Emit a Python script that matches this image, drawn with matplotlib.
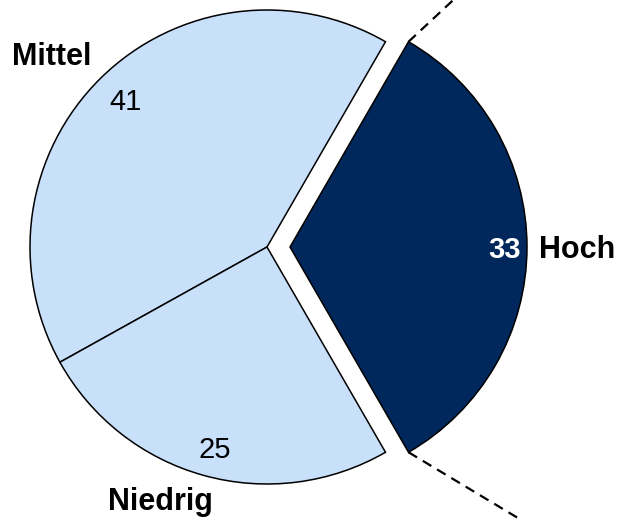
import numpy as np
import matplotlib.pyplot as plt

plt.rcParams['font.family'] = ['Liberation Sans', 'DejaVu Sans']

# shares per category, in pie order (counter-clockwise from -60 deg)
labels = ['Hoch', 'Mittel', 'Niedrig']
values = [33, 41, 25]
colors = ['#00285C', '#C8E0FA', '#C8E0FA']
explode = [0.097, 0, 0]

fig = plt.figure(figsize=(6.19, 5.2), dpi=100)
ax = fig.add_axes([0, 0, 1, 1])

start = -60
wedges, _ = ax.pie(values, colors=colors, explode=explode, startangle=start,
                   counterclock=True, radius=1,
                   wedgeprops=dict(edgecolor='black', linewidth=1.1))

ax.set_xlim(-1.1266, 1.4852)
ax.set_ylim(-1.1519, 1.0422)
ax.set_aspect('equal')
ax.axis('off')

# connector lines leaving the exploded slice
hoch = wedges[0]
cx, cy = hoch.center
for ang, direction in [(hoch.theta2, 43), (hoch.theta1, -31)]:
    x0 = cx + np.cos(np.radians(ang))
    y0 = cy + np.sin(np.radians(ang))
    x1 = x0 + 1.2 * np.cos(np.radians(direction))
    y1 = y0 + 1.2 * np.sin(np.radians(direction))
    ax.plot([x0, x1], [y0, y1], color='black', lw=1.6,
            linestyle=(0, (4.5, 3)), clip_on=True)

# value labels
ax.text(1.004, -0.013, str(values[0]), color='white', fontsize=21,
        fontweight='bold', ha='center', va='center')
ax.text(-0.599, 0.612, str(values[1]), color='black', fontsize=21,
        ha='center', va='center')
ax.text(-0.219, -0.857, str(values[2]), color='black', fontsize=21,
        ha='center', va='center')

# category labels
ax.text(1.307, -0.013, labels[0], fontsize=22, fontweight='bold',
        ha='center', va='center')
ax.text(-0.907, 0.802, labels[1], fontsize=22, fontweight='bold',
        ha='center', va='center')
ax.text(-0.451, -1.075, labels[2], fontsize=22, fontweight='bold',
        ha='center', va='center')

fig.savefig('out.png', dpi=100)
